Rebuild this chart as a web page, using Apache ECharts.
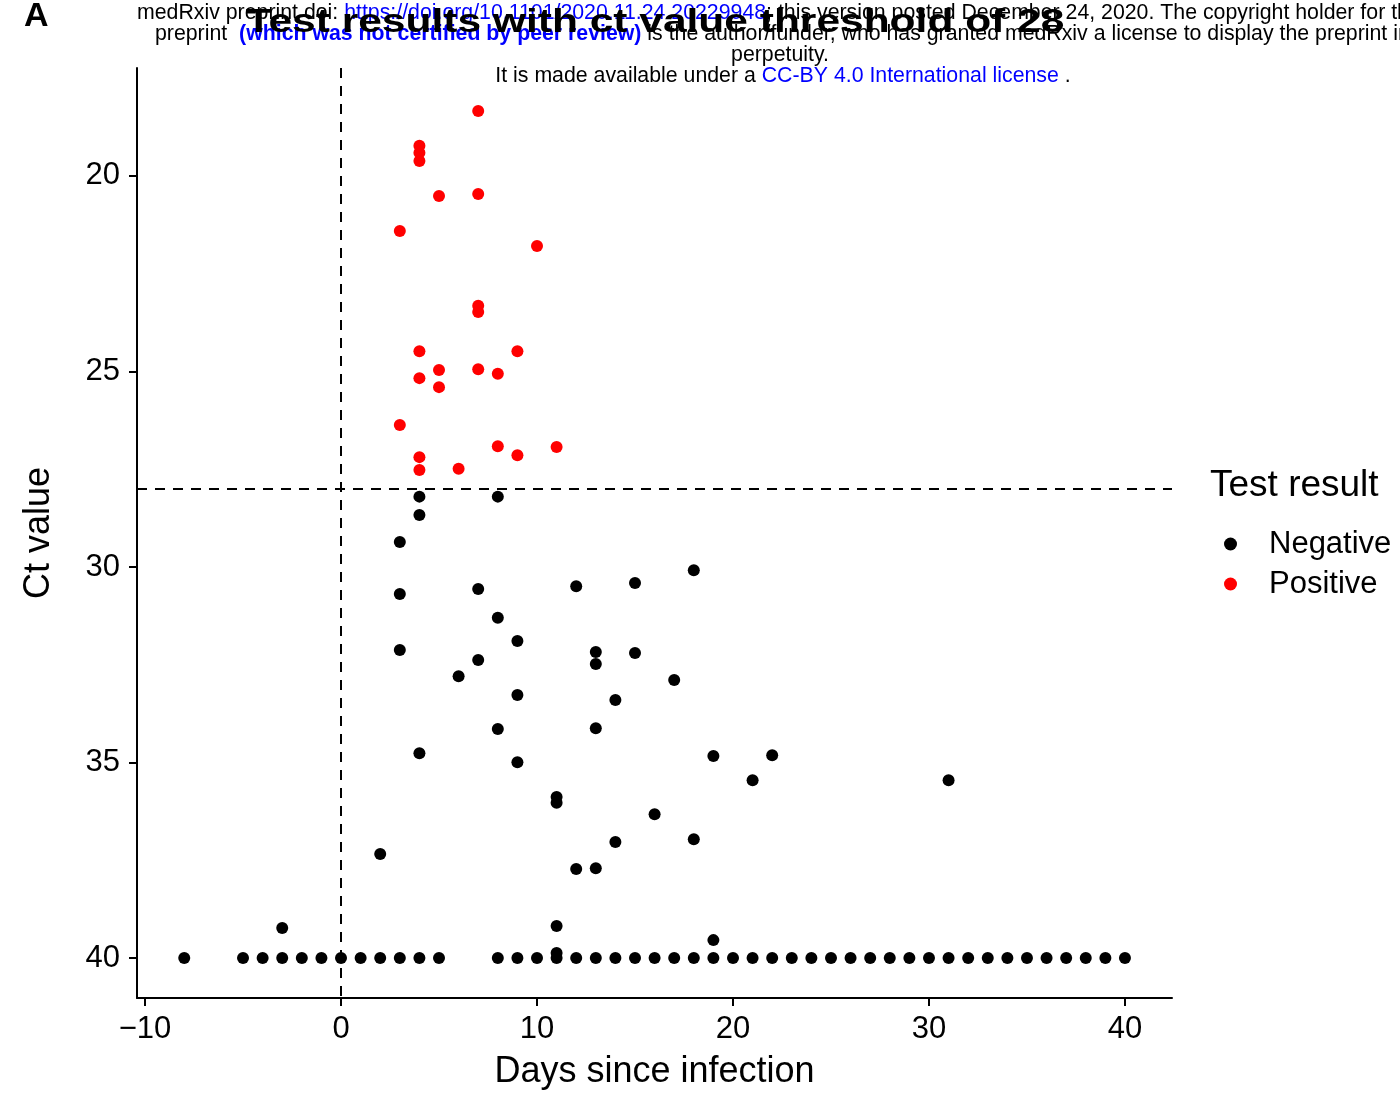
<!DOCTYPE html>
<html>
<head>
<meta charset="utf-8">
<script src="https://cdn.jsdelivr.net/npm/echarts@6/dist/echarts.min.js"></script>
<style>
html, body { margin: 0; padding: 0; background: #fff; }
#chart { width: 1400px; height: 1093px; }
</style>
</head>
<body>
<div id="chart"></div>
<script>
// negative tests (days since infection, ct value)
const negDays = [4, 8, 4, 3, 18, 12, 15, 3, 7, 8, 9, 13, 13, 15, 3, 7, 6, 17, 9, 14, 8, 13, 4, 9, 19, 22, 21, 31,
	11, 11, 16, 14, 18, 12, 13, 2, -3, 11, 19, 11,
	-8, -5, -4, -3, -2, -1, 0, 1, 2, 3, 4, 5,
	8, 9, 10, 11, 12, 13, 14, 15, 16, 17, 18, 19, 20, 21, 22, 23, 24, 25, 26, 27, 28, 29, 30,
	31, 32, 33, 34, 35, 36, 37, 38, 39, 40]
const negCt = [28.2, 28.2, 28.67, 29.36, 30.08, 30.49, 30.41, 30.69, 30.56, 31.3, 31.89, 32.17, 32.48, 32.2, 32.12, 32.38, 32.79, 32.89, 33.27, 33.4, 34.14, 34.12, 34.76, 34.99, 34.83, 34.81, 35.45, 35.45,
	35.88, 36.03, 36.32, 37.03, 36.96, 37.72, 37.7, 37.34, 39.23, 39.18, 39.54, 39.87,
	40, 40, 40, 40, 40, 40, 40, 40, 40, 40, 40, 40,
	40, 40, 40, 40, 40, 40, 40, 40, 40, 40, 40, 40, 40, 40, 40, 40, 40, 40, 40, 40, 40, 40, 40,
	40, 40, 40, 40, 40, 40, 40, 40, 40, 40]

// positive tests
const posDays = [7, 4, 4, 4, 5, 7, 3, 10, 7, 7, 4, 9, 5, 7, 8, 4, 5, 3, 8, 11, 9, 4, 4, 6]
const posCt = [18.34, 19.23, 19.41, 19.62, 20.51, 20.46, 21.41, 21.79, 23.32, 23.48, 24.48, 24.48, 24.96, 24.94, 25.06, 25.17, 25.4, 26.37, 26.91, 26.93, 27.14, 27.19, 27.52, 27.49]

const xTicks = [-10, 0, 10, 20, 30, 40]
const yTicks = [20, 25, 30, 35, 40]
const ctThreshold = 28

const font = "Liberation Sans, Arial, sans-serif"

let chart = echarts.init(document.getElementById("chart"))

let pairs = function (xs, ys) {
	return xs.map(function (x, i) {
		return [x, ys[i]]
	})
}

let option = {
	animation: false,
	backgroundColor: "#fff",
	textStyle: { fontFamily: font },
	grid: {
		left: 137,
		right: 228,
		top: 68,
		bottom: 95,
		containLabel: false,
		outerBoundsMode: "none"
	},
	xAxis: {
		type: "value",
		min: -10.41,
		max: 42.4,
		name: "Days since infection",
		nameLocation: "middle",
		nameGap: 56,
		nameTextStyle: { fontSize: 36, color: "#000", fontFamily: font },
		splitLine: { show: false },
		axisLine: { show: true, onZero: false, lineStyle: { color: "#000", width: 2 } },
		axisTick: { show: true, customValues: xTicks, length: 8, lineStyle: { color: "#000", width: 2 } },
		axisLabel: {
			customValues: xTicks,
			fontSize: 31,
			color: "#000",
			margin: 16,
			fontFamily: font,
			formatter: function (v) {
				return String(v).replace("-", "\u2212")
			}
		}
	},
	yAxis: {
		type: "value",
		inverse: true,
		min: 17.24,
		max: 41.02,
		name: "Ct value",
		nameLocation: "middle",
		nameGap: 80,
		nameTextStyle: { fontSize: 36, color: "#000", fontFamily: font },
		splitLine: { show: false },
		axisLine: { show: true, onZero: false, lineStyle: { color: "#000", width: 2 } },
		axisTick: { show: true, customValues: yTicks, length: 8, lineStyle: { color: "#000", width: 2 } },
		axisLabel: {
			customValues: yTicks,
			fontSize: 31,
			color: "#000",
			margin: 17,
			fontFamily: font
		}
	},
	legend: {
		orient: "vertical",
		left: 1219,
		top: 523,
		itemWidth: 13,
		itemHeight: 13,
		itemGap: 8,
		icon: "circle",
		data: ["Negative", "Positive"],
		textStyle: {
			fontSize: 31,
			lineHeight: 32,
			color: "#000",
			fontFamily: font,
			padding: [0, 0, 0, 27]
		}
	},
	graphic: [
		{
			type: "text",
			left: 24,
			top: 0,
			style: { text: "A", fontSize: 34, fontWeight: "bold", fill: "#000", fontFamily: font }
		},
		{
			type: "text",
			x: 137,
			y: 3,
			style: {
				text: "{k|medRxiv preprint doi: }{b|https://doi.org/10.1101/2020.11.24.20229948}{k|; this version posted December 24, 2020. The copyright holder for this}",
				fontFamily: font,
				rich: {
					k: { fontSize: 21.3, fill: "#000", fontFamily: font },
					b: { fontSize: 21.3, fill: "#0000ff", fontFamily: font }
				}
			}
		},
		{
			type: "text",
			x: 155,
			y: 24,
			style: {
				text: "{k|preprint  }{b|(which was not certified by peer review)}{k| is the author/funder, who has granted medRxiv a license to display the preprint in}",
				fontFamily: font,
				rich: {
					k: { fontSize: 21.3, fill: "#000", fontFamily: font },
					b: { fontSize: 21.3, fill: "#0000ff", fontWeight: "bold", fontFamily: font }
				}
			}
		},
		{
			type: "text",
			x: 780,
			y: 45,
			style: { text: "perpetuity.", fontSize: 21.3, fill: "#000", fontFamily: font, align: "center" }
		},
		{
			type: "text",
			x: 783,
			y: 66,
			style: {
				text: "{k|It is made available under a }{b|CC-BY 4.0 International license}{k| .}",
				align: "center",
				fontFamily: font,
				rich: {
					k: { fontSize: 21.3, fill: "#000", fontFamily: font },
					b: { fontSize: 21.3, fill: "#0000ff", fontFamily: font }
				}
			}
		},
		{
			type: "text",
			x: 655,
			y: 6,
			scaleX: 1.25,
			style: {
				text: "Test results with ct value threshold of 28",
				fontSize: 34,
				fontWeight: "bold",
				fill: "#000",
				fontFamily: font,
				align: "center"
			}
		},
		{
			type: "text",
			x: 1210,
			y: 467,
			style: { text: "Test result", fontSize: 37, fill: "#000", fontFamily: font }
		}
	],
	series: [
		{
			name: "Negative",
			type: "scatter",
			symbol: "circle",
			symbolSize: 12,
			itemStyle: { color: "#000", opacity: 1 },
			data: pairs(negDays, negCt),
			markLine: {
				silent: true,
				symbol: "none",
				label: { show: false },
				lineStyle: { color: "#000", width: 2, type: [10, 8], opacity: 1 },
				data: [{ xAxis: 0 }, { yAxis: ctThreshold }]
			}
		},
		{
			name: "Positive",
			type: "scatter",
			symbol: "circle",
			symbolSize: 12,
			itemStyle: { color: "#ff0000", opacity: 1 },
			data: pairs(posDays, posCt)
		}
	]
}
chart.setOption(option)
</script>
</body>
</html>
